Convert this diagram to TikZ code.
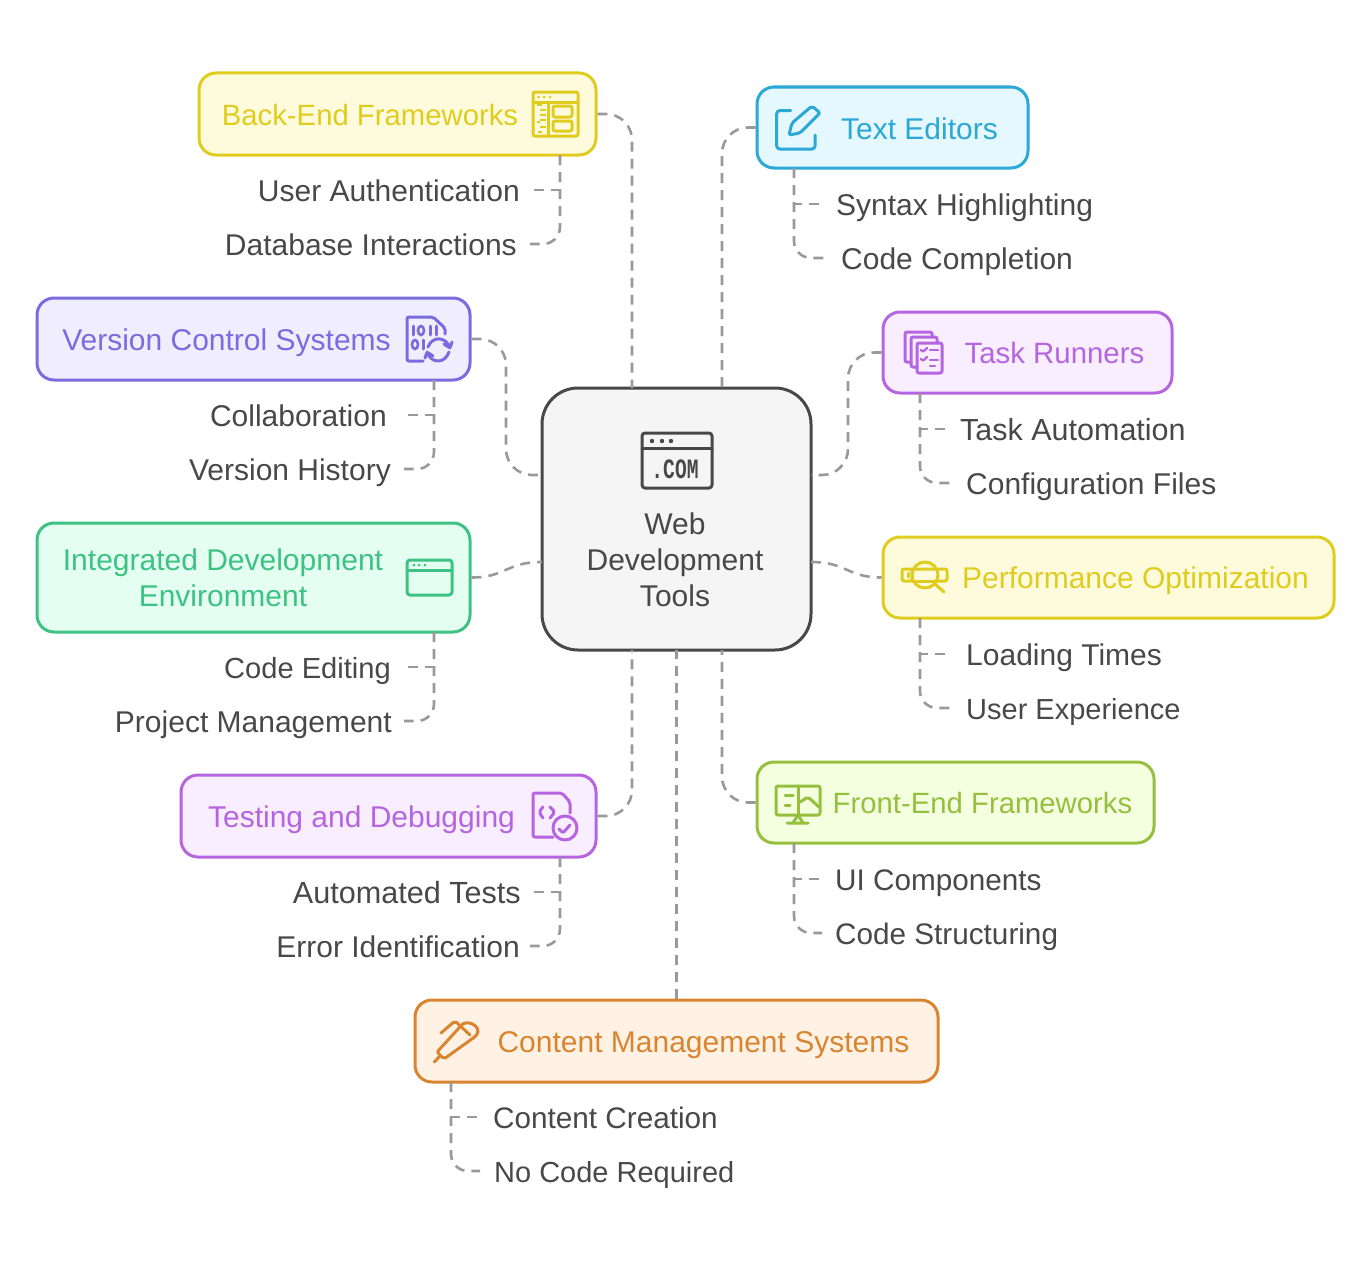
\documentclass[tikz,border=0pt]{standalone}
\usepackage{fontspec}
\setmainfont{Liberation Sans}
\newfontfamily\comfont{Liberation Mono}
\usetikzlibrary{positioning}

\definecolor{inkgray}{HTML}{484848}
\definecolor{linkgray}{HTML}{999999}
\definecolor{hubfill}{HTML}{F5F5F5}
\definecolor{yellowline}{HTML}{E0CC1F}
\definecolor{yellowfill}{HTML}{FEFBDC}
\definecolor{blueline}{HTML}{2BA8D6}
\definecolor{bluefill}{HTML}{E5F8FF}
\definecolor{violetline}{HTML}{7C6BDE}
\definecolor{violetfill}{HTML}{F0EDFF}
\definecolor{pinkline}{HTML}{B565E0}
\definecolor{pinkfill}{HTML}{F8EEFF}
\definecolor{greenline}{HTML}{3DC283}
\definecolor{greenfill}{HTML}{E4FFF2}
\definecolor{limeline}{HTML}{96BF3E}
\definecolor{limefill}{HTML}{F4FFDF}
\definecolor{orangeline}{HTML}{D98530}
\definecolor{orangefill}{HTML}{FFF2E5}

\tikzset{
  textsize/.style={font=\fontsize{#1}{36}\selectfont},
  box/.style={draw, rectangle, rounded corners=17pt, line width=3pt, inner sep=0pt},
  title/.style={inner sep=0pt, align=center, textsize=30},
  heading/.style={title, text height=26pt, text depth=4pt},
  leaf/.style={inner sep=0pt, text=inkgray, text height=26pt, text depth=3pt, textsize=30},
  link/.style={draw=linkgray, line width=2.6pt, dash pattern=on 10pt off 7pt},
  curve/.style={link, rounded corners=26pt},
  twig/.style={link, rounded corners=17pt},
  icon/.style={line width=3pt, rounded corners=2pt, line cap=round, line join=round}
}

\begin{document}
\begin{tikzpicture}[x=1pt, y=-1pt]
  \useasboundingbox (0,0) rectangle (1371,1263);

  % hub
  \node[box, draw=inkgray, fill=hubfill, rounded corners=36pt, minimum width=269pt, minimum height=262pt] (hub) at (676.5,519) {};
  \node[title, text=inkgray] (hubtitle) at (675,559.5) {Web\\Development\\Tools};
  \node[inner sep=0pt, text=inkgray, font=\comfont\bfseries\fontsize{28}{28}\selectfont, xscale=.7, transform shape] (hubcom) at (675,469) {.COM};
  \draw[icon, inkgray, rounded corners=3pt] (642,433) rectangle (712,488);
  \draw[icon, inkgray] (642,448) -- (712,448);
  \fill[inkgray] (652,441) circle[radius=2.2pt] (662,441) circle[radius=2.2pt] (671,441) circle[radius=2.2pt];

  % boxes
  \node[box, draw=yellowline, fill=yellowfill, minimum width=397pt, minimum height=82pt] (backend) at (397.5,114) {};
  \node[box, draw=blueline, fill=bluefill, minimum width=271pt, minimum height=81pt] (editors) at (892.5,127.5) {};
  \node[box, draw=violetline, fill=violetfill, minimum width=433pt, minimum height=82pt] (vcs) at (253.5,339) {};
  \node[box, draw=pinkline, fill=pinkfill, minimum width=289pt, minimum height=81pt] (runners) at (1027.5,352.5) {};
  \node[box, draw=greenline, fill=greenfill, minimum width=433pt, minimum height=109pt] (ide) at (253.5,577.5) {};
  \node[box, draw=yellowline, fill=yellowfill, minimum width=451pt, minimum height=81pt] (perf) at (1108.5,577.5) {};
  \node[box, draw=pinkline, fill=pinkfill, minimum width=415pt, minimum height=82pt] (testing) at (388.5,816) {};
  \node[box, draw=limeline, fill=limefill, minimum width=397pt, minimum height=81pt] (frontend) at (955.5,802.5) {};
  \node[box, draw=orangeline, fill=orangefill, minimum width=523pt, minimum height=82pt] (cms) at (676.5,1041) {};

  % box titles
  \node[heading, textsize=29.3, text=yellowline] (backendtitle) at (370,114) {Back-End Frameworks};
  \node[heading, text=blueline] (editorstitle) at (919.5,128) {Text Editors};
  \node[heading, text=violetline] (vcstitle) at (226.5,339) {Version Control Systems};
  \node[heading, textsize=29.4, text=pinkline] (runnerstitle) at (1054.5,352) {Task Runners};
  \node[title, text=greenline] (idetitle) at (223,577.5) {Integrated Development\\Environment};
  \node[heading, text=yellowline] (perftitle) at (1135.5,577) {Performance Optimization};
  \node[heading, text=pinkline] (testingtitle) at (361.5,816) {Testing and Debugging};
  \node[heading, textsize=29.3, text=limeline] (frontendtitle) at (982.5,802) {Front-End Frameworks};
  \node[heading, text=orangeline] (cmstitle) at (703.5,1041) {Content Management Systems};

  % leaves on the left
  \node[leaf, anchor=east] (userauth) at (520,190) {User Authentication};
  \node[leaf, anchor=east] (database) at (517,244) {Database Interactions};
  \node[leaf, anchor=east] (collab) at (387,415) {Collaboration};
  \node[leaf, anchor=east] (history) at (391,469) {Version History};
  \node[leaf, textsize=29.1, anchor=east] (codeedit) at (391,667) {Code Editing};
  \node[leaf, anchor=east] (project) at (392,721) {Project Management};
  \node[leaf, textsize=30.6, anchor=east] (autotests) at (521,892) {Automated Tests};
  \node[leaf, anchor=east] (errors) at (520,946) {Error Identification};

  % leaves on the right
  \node[leaf, anchor=west] (syntax) at (836,204) {Syntax Highlighting};
  \node[leaf, anchor=west] (completion) at (841,258) {Code Completion};
  \node[leaf, textsize=30.5, anchor=west] (automation) at (960,429) {Task Automation};
  \node[leaf, anchor=west] (config) at (966,483) {Configuration Files};
  \node[leaf, anchor=west] (loading) at (966,654) {Loading Times};
  \node[leaf, textsize=29, anchor=west] (experience) at (966,708) {User Experience};
  \node[leaf, textsize=29.7, anchor=west] (uicomp) at (835,879) {UI Components};
  \node[leaf, textsize=29.7, anchor=west] (structuring) at (835,933) {Code Structuring};
  \node[leaf, textsize=29.7, anchor=west] (creation) at (493,1117) {Content Creation};
  \node[leaf, textsize=29, anchor=west] (nocode) at (494,1171) {No Code Required};

  % ends of the links on the hub and the boxes
  \coordinate (hubnl) at (632,388);
  \coordinate (hubnr) at (722,388);
  \coordinate (hubwu) at (542,475);
  \coordinate (hubwl) at (542,562);
  \coordinate (hubeu) at (811,475);
  \coordinate (hubel) at (811,562);
  \coordinate (hubsl) at (632,650);
  \coordinate (hubsm) at (676.5,650);
  \coordinate (hubsr) at (722,650);
  \coordinate (backendfoot) at (560,155);
  \coordinate (editorsfoot) at (794,168);
  \coordinate (vcsfoot) at (434,380);
  \coordinate (runnersfoot) at (920,393);
  \coordinate (idefoot) at (434,632);
  \coordinate (perffoot) at (920,618);
  \coordinate (testingfoot) at (560,857);
  \coordinate (frontendfoot) at (794,843);
  \coordinate (cmsfoot) at (451,1082);

  % hub links
  \draw[curve] (backend.east) -| (hubnl);
  \draw[curve] (editors.west) -| (hubnr);
  \draw[curve] (vcs.east) -- (506,339) -- (506,475) -- (hubwu);
  \draw[curve] (runners.west) -- (848,352.5) -- (848,475) -- (hubeu);
  \draw[link] (ide.east) .. controls (506,577.5) and (506,562) .. (hubwl);
  \draw[link] (hubel) .. controls (847,562) and (847,577.5) .. (perf.west);
  \draw[curve] (testing.east) -| (hubsl);
  \draw[curve] (frontend.west) -| (hubsr);
  \draw[link] (cms.north) -- (hubsm);

  % leaf links
  \draw[link, shorten >=13pt] (backendfoot) |- (userauth.east);
  \draw[twig, shorten >=13pt] (backendfoot) |- (database.east);
  \draw[link, shorten >=20pt] (vcsfoot) |- (collab.east);
  \draw[twig, shorten >=13pt] (vcsfoot) |- (history.east);
  \draw[link, shorten >=16pt] (idefoot) |- (codeedit.east);
  \draw[twig, shorten >=12pt] (idefoot) |- (project.east);
  \draw[link, shorten >=12pt] (testingfoot) |- (autotests.east);
  \draw[twig, shorten >=10pt] (testingfoot) |- (errors.east);
  \draw[link, shorten >=14pt] (editorsfoot) |- (syntax.west);
  \draw[twig, shorten >=17pt] (editorsfoot) |- (completion.west);
  \draw[link, shorten >=14pt] (runnersfoot) |- (automation.west);
  \draw[twig, shorten >=16pt] (runnersfoot) |- (config.west);
  \draw[link, shorten >=20pt] (perffoot) |- (loading.west);
  \draw[twig, shorten >=16pt] (perffoot) |- (experience.west);
  \draw[link, shorten >=13pt] (frontendfoot) |- (uicomp.west);
  \draw[twig, shorten >=13pt] (frontendfoot) |- (structuring.west);
  \draw[link, shorten >=15pt] (cmsfoot) |- (creation.west);
  \draw[twig, shorten >=14pt] (cmsfoot) |- (nocode.west);

  % back-end icon
  \draw[icon, yellowline] (533,92) rectangle (578,136);
  \draw[icon, yellowline] (533,102) -- (578,102) (548,102) -- (548,136);
  \draw[icon, yellowline] (553,106) rectangle (572,117) (553,121) rectangle (572,131);
  \fill[yellowline] (538.5,97) circle[radius=1.5pt] (544,97) circle[radius=1.5pt] (550,97) circle[radius=1.5pt];
  \draw[yellowline, line width=2.2pt] (537,105) -- (542,105) (540,110) -- (546,110) (540,115) -- (546,115) (540,120) -- (546,120) (537,122) -- (540,122) (540,127) -- (546,127) (538,132) -- (542,132);

  % version control icon
  \draw[icon, violetline] (423,361) -- (407,361) -- (407,317) -- (433,317) -- (445,328) -- (445,334);
  \draw[violetline, line width=3pt, line cap=round] (413,326) -- (413,335) (430,326) -- (430,335) (436,326) -- (436,335) (423,349) -- (423,340);
  \draw[violetline, line width=2.6pt] (421,330.5) ellipse (3pt and 4.5pt) (415,344.5) ellipse (3pt and 4.5pt);
  \draw[icon, violetline] (428,347) .. controls (432,336) and (446,336) .. (450,348);
  \draw[icon, violetline] (444,344) -- (450,348) -- (452,342);
  \draw[icon, violetline] (449,352) .. controls (445,364) and (431,364) .. (427,352);
  \draw[icon, violetline] (433,356) -- (427,352) -- (425,358);

  % editor icon
  \draw[icon, blueline, rounded corners=3pt] (790.7,110.7) -- (776.7,110.7) -- (776.7,149) -- (815,149) -- (815,135);
  \draw[icon, blueline] (789,135) -- (792,123) -- (812,106) -- (820,113) -- (800,133) -- cycle;

  % task runner icon
  \draw[icon, pinkline] (911,362) -- (905,362) -- (905,332) -- (932,332) -- (932,337);
  \draw[icon, pinkline] (917,367) -- (911,367) -- (911,337) -- (937,337) -- (937,343);
  \draw[icon, pinkline] (917,343) rectangle (942,373);
  \draw[icon, pinkline, line width=2.4pt] (921,350) -- (923,352) -- (927,348) (921,359) -- (923,361) -- (927,357);
  \draw[icon, pinkline, line width=2.4pt] (930,350) -- (938,350) (930,360) -- (938,360) (930,366) -- (935,366);

  % performance icon
  \draw[icon, yellowline] (925,575) circle[radius=13pt];
  \draw[icon, yellowline] (935,584) -- (944,592);
  \draw[icon, yellowline] (912,569) -- (902,569) -- (902,581) -- (912,581) -- cycle;
  \draw[icon, yellowline] (912,569) -- (947,569) -- (947,581) -- (934,581);
  \draw[icon, yellowline] (912,581) -- (934,581) (908,573) -- (908,577);

  % ide icon
  \draw[icon, greenline, rounded corners=3pt] (407,560) rectangle (452,595);
  \draw[icon, greenline] (407,570) -- (452,570);
  \fill[greenline] (414,565) circle[radius=1.5pt] (419,565) circle[radius=1.5pt] (425,565) circle[radius=1.5pt];

  % testing icon
  \draw[icon, pinkline] (553,837) -- (533,837) -- (533,793) -- (562,793) -- (570,802) -- (570,813);
  \draw[icon, pinkline] (543,807) -- (539,812) -- (543,818) (550,807) -- (555,812) -- (550,818);
  \draw[icon, pinkline] (565,828) circle[radius=12pt];
  \draw[icon, pinkline] (559,829) -- (563,833) -- (570,825);

  % front-end icon
  \draw[icon, limeline] (776,786) rectangle (820,815);
  \draw[icon, limeline] (798,786) -- (798,815);
  \draw[icon, limeline] (785,795) -- (793,795) (785,805) -- (790,805);
  \draw[icon, limeline] (800,802) -- (808,797) -- (819,807);
  \draw[icon, limeline] (798,815) -- (793,823) (798,815) -- (803,823) (787,823) -- (808,823);

  % cms icon
  \draw[icon, orangeline] (434.3,1062) -- (439,1057);
  \draw[icon, orangeline] (437,1052) -- (459,1028) .. controls (466,1018) and (482,1026) .. (476,1036) -- (444,1059) -- cycle;
  \draw[icon, orangeline] (441,1033) -- (455,1021) -- (470,1035);
\end{tikzpicture}
\end{document}
